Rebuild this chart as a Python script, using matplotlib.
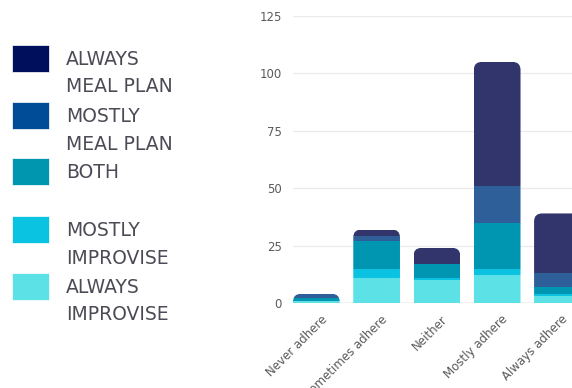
import numpy as np
import matplotlib
matplotlib.use("Agg")
import matplotlib.pyplot as plt
from matplotlib.patches import PathPatch, Rectangle
from matplotlib.path import Path
from matplotlib.transforms import ScaledTranslation

plt.rcParams['font.family'] = ['DejaVu Sans']

categories = ["Never adhere", "Sometimes adhere", "Neither", "Mostly adhere", "Always adhere"]
always_improvise = [1, 11, 10, 12, 3]
mostly_improvise = [0, 4, 1, 3, 1]
both = [1, 12, 6, 20, 3]
mostly_meal_plan = [2, 2, 0, 16, 6]
always_meal_plan = [0, 3, 7, 54, 26]

series = [always_improvise, mostly_improvise, both, mostly_meal_plan, always_meal_plan]
bar_colors = ['#5CE1E6', '#0BC3E0', '#0095B0', '#2E5F98', '#31356B']

legend_labels = [["ALWAYS", "MEAL PLAN"], ["MOSTLY", "MEAL PLAN"], ["BOTH"],
                 ["MOSTLY", "IMPROVISE"], ["ALWAYS", "IMPROVISE"]]
legend_colors = ['#000F5C', '#004C97', '#0096B0', '#0AC3E0', '#5CE1E6']

W, H = 572, 388
fig = plt.figure(figsize=(W / 100, H / 100), dpi=100)

# axes box in pixels: left 293, y=0 at 303, y=125 at 16
ax = fig.add_axes([293 / W, (H - 303) / H, (W - 293) / W, 287 / H])
bw = 0.775
x = np.arange(len(categories))
ax.set_xlim(-bw / 2, (W - 317.5) / 60)
ax.set_ylim(0, 125)

totals = np.sum(series, axis=0)
px_x = 60.0
px_y = 287 / 125
r_px = 8


def rounded_top(x0, x1, top):
    # clip outline with rounded upper corners, square bottom
    rx = r_px / px_x
    ry = min(r_px / px_y, top)
    verts = [(x0, -5), (x0, top - ry), (x0, top), (x0 + rx, top),
             (x1 - rx, top), (x1, top), (x1, top - ry), (x1, -5), (x0, -5)]
    codes = [Path.MOVETO, Path.LINETO, Path.CURVE3, Path.CURVE3,
             Path.LINETO, Path.CURVE3, Path.CURVE3, Path.LINETO, Path.CLOSEPOLY]
    return PathPatch(Path(verts, codes), transform=ax.transData,
                     facecolor='none', edgecolor='none')


for i in range(len(categories)):
    clip = rounded_top(x[i] - bw / 2, x[i] + bw / 2, totals[i])
    bottom = 0
    for vals, c in zip(series, bar_colors):
        if vals[i] > 0:
            b = ax.bar(x[i], vals[i], bw, bottom=bottom, color=c,
                       linewidth=0, zorder=3)
            for p in b:
                p.set_clip_path(clip)
        bottom += vals[i]

ax.set_yticks([0, 25, 50, 75, 100, 125])
ax.yaxis.grid(True, color='#EBEBEB', linewidth=1, zorder=0)
ax.set_axisbelow(True)
ax.axhline(0, color='#CCCCCC', linewidth=1, zorder=2)
for s in ax.spines.values():
    s.set_visible(False)
ax.tick_params(axis='y', length=0, pad=8, labelsize=8.5, labelcolor='#5A5A5A')
ax.tick_params(axis='x', length=0, pad=7, labelsize=8.5, labelcolor='#5A5A5A')
ax.set_xticks(x)
ax.set_xticklabels(categories, rotation=45, ha='right', va='top', rotation_mode='anchor')
for lbl in ax.get_xticklabels():
    lbl.set_transform(lbl.get_transform() + ScaledTranslation(4 / 100, 0, fig.dpi_scale_trans))

# legend drawn in figure pixels
sq_tops = [45, 102, 158, 216, 273]
for top, lines, c in zip(sq_tops, legend_labels, legend_colors):
    fig.add_artist(Rectangle((12 / W, 1 - (top + 26.5) / H), 36.5 / W, 26.5 / H,
                             transform=fig.transFigure, facecolor=c,
                             edgecolor='#FFFFFF', linewidth=0.5))
    base = top + 13.3 + 6.7
    for j, t in enumerate(lines):
        fig.text(66 / W, 1 - (base + 27.5 * j) / H, t, fontsize=13.5,
                 color='#4B4B55', ha='left', va='baseline')

fig.savefig("out.png", dpi=100)
